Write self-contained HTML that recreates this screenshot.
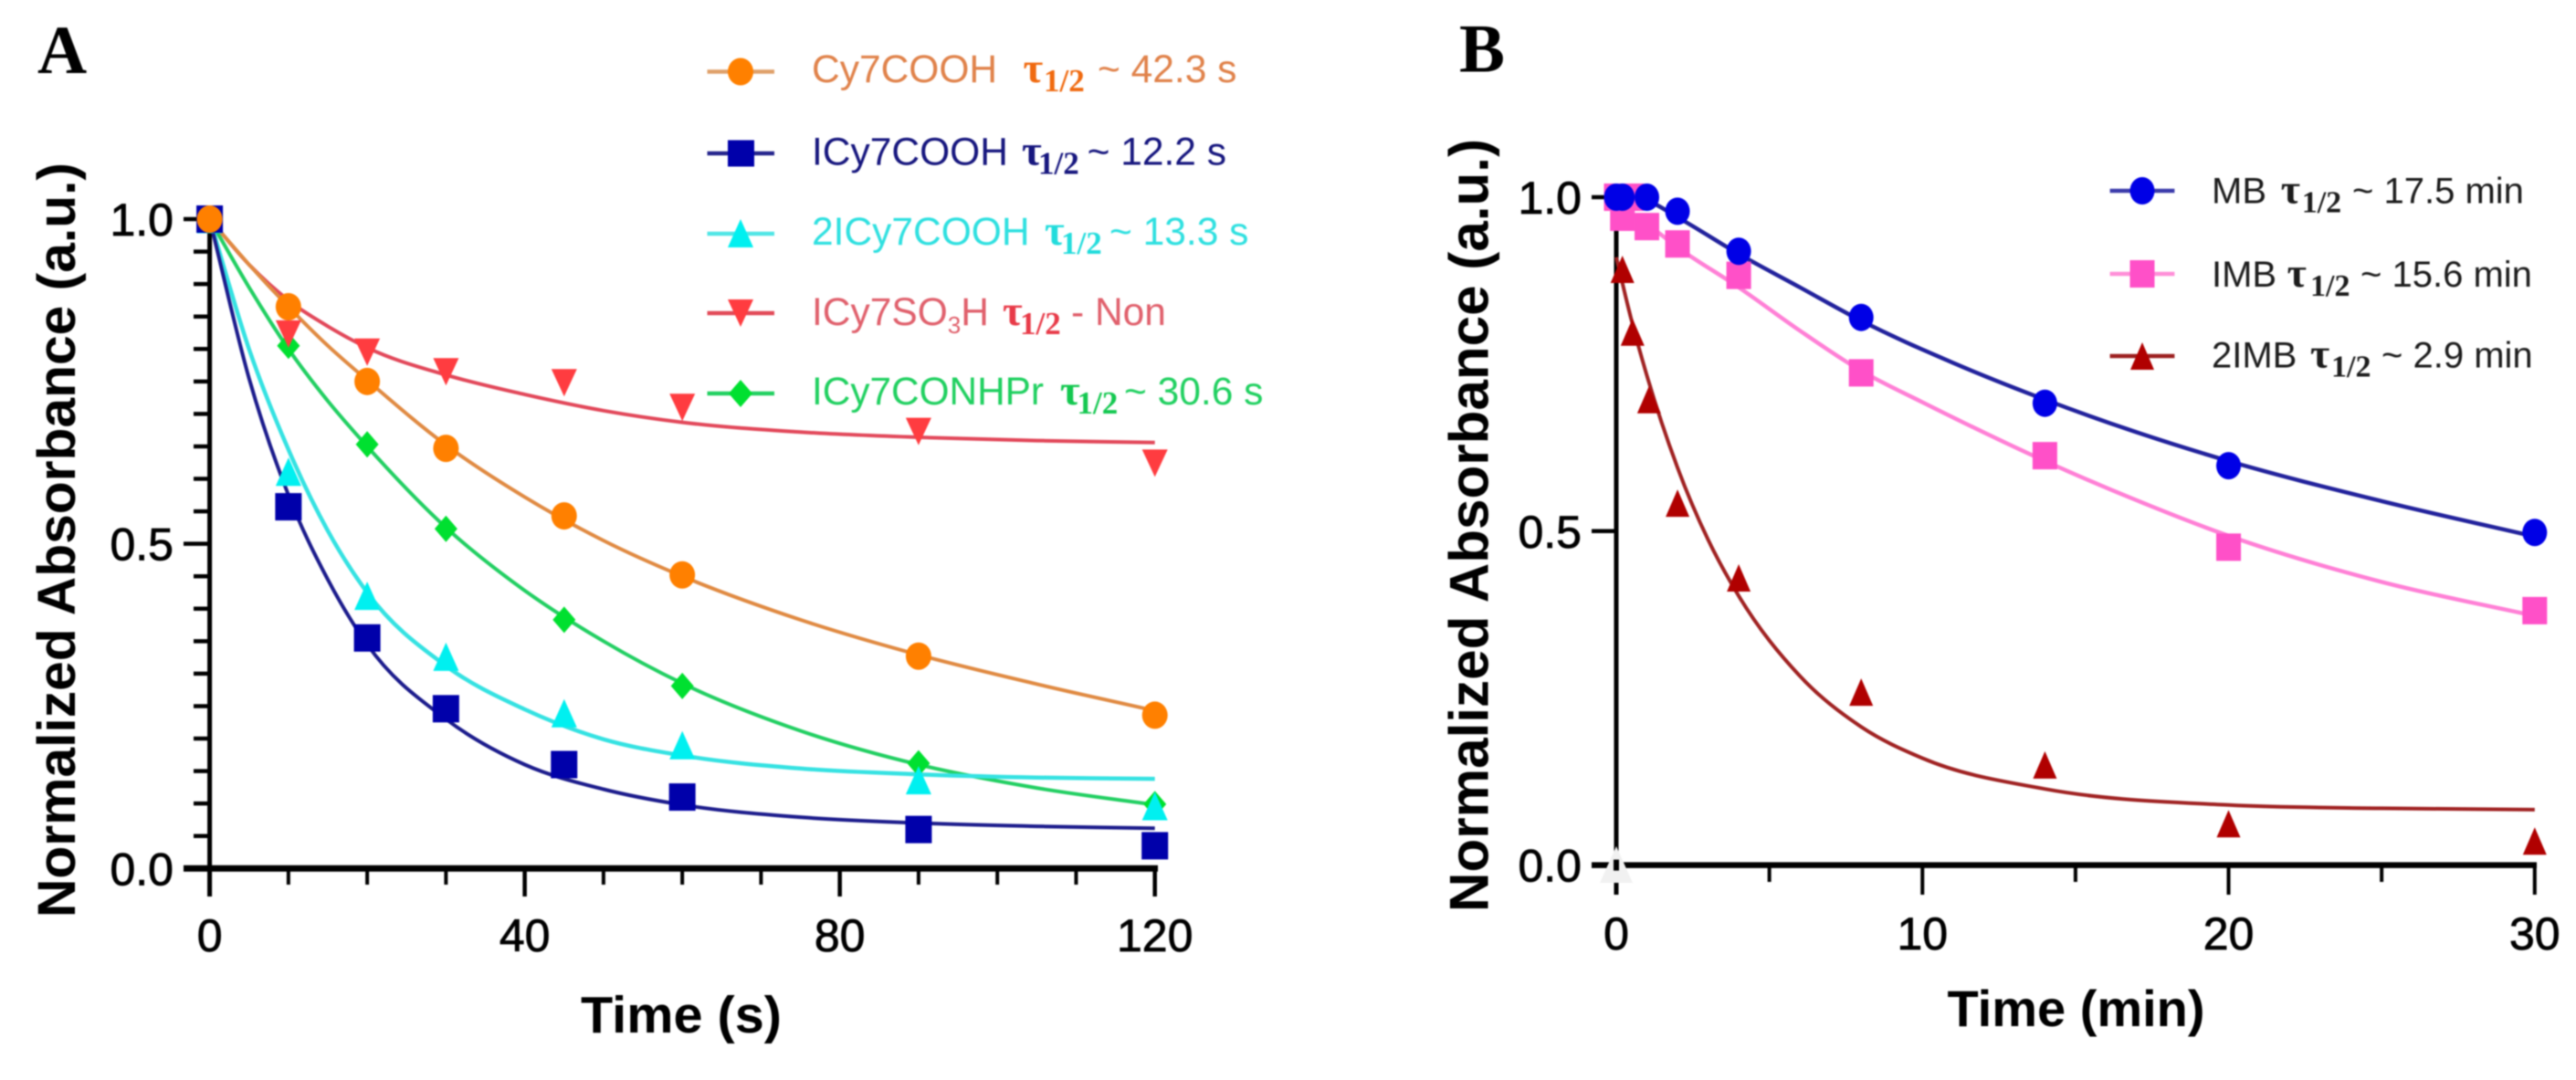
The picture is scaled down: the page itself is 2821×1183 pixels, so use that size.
<!DOCTYPE html>
<html lang="en">
<head>
<meta charset="utf-8">
<title>Normalized absorbance decay curves</title>
<style>
  html, body { margin: 0; padding: 0; background: #fff; }
  #figure { display: block; width: 2821px; height: 1183px; filter: blur(0.7px); font-family: "Liberation Sans", sans-serif; }
  .tau { font-family: "Liberation Serif", serif; font-weight: 700; font-size: 47px; }
  .sub { font-family: "Liberation Serif", serif; font-weight: 700; font-size: 35px; }
  .tauB { font-family: "Liberation Serif", serif; font-weight: 700; font-size: 46px; }
  .subB { font-family: "Liberation Serif", serif; font-weight: 700; font-size: 34px; }
  .leg { font-size: 42.5px; }
  .legB { font-size: 40px; fill: #1c1c1c; }
  .title { font-weight: 700; fill: #000; }
  .panel { font-family: "Liberation Serif", serif; font-weight: 700; font-size: 75px; fill: #000; }
</style>
</head>
<body>
<svg id="figure" xmlns="http://www.w3.org/2000/svg" width="2821" height="1183" viewBox="0 0 2821 1183">
  <rect width="2821" height="1183" fill="#fff"/>

  <text class="panel" x="41" y="80">A</text>
  <text class="panel" x="1598" y="78.5">B</text>

  <g id="chartA"></g>
  <g id="chartB"></g>

  <text class="title" font-size="58.5" transform="translate(82 1005) rotate(-90)" textLength="827" lengthAdjust="spacingAndGlyphs">Normalized Absorbance (a.u.)</text>
  <text class="title" font-size="57" x="636" y="1131" textLength="220" lengthAdjust="spacingAndGlyphs">Time (s)</text>
  <text class="title" font-size="60" transform="translate(1629.5 999) rotate(-90)" textLength="847" lengthAdjust="spacingAndGlyphs">Normalized Absorbance (a.u.)</text>
  <text class="title" font-size="56" x="2132.5" y="1124" textLength="282" lengthAdjust="spacingAndGlyphs">Time (min)</text>

  <!-- Legend A -->
  <g>
    <g>
      <line x1="774.5" x2="848" y1="78.5" y2="78.5" stroke="#dfa06a" stroke-width="4.5"/>
      <ellipse cx="811" cy="78.5" rx="14" ry="15" fill="#ff8000"/>
      <text class="leg" fill="#e0824a" x="889" y="90">Cy7COOH</text>
      <text class="tau" fill="#f06a10" x="1120.5" y="90">τ</text>
      <text class="sub" fill="#f06a10" x="1143" y="100">1/2</text>
      <text class="leg" fill="#e0824a" x="1202" y="90">~ 42.3 s</text>
    </g>
    <g>
      <line x1="774.5" x2="848" y1="168" y2="168" stroke="#24248c" stroke-width="4.5"/>
      <rect x="797" y="153.5" width="29" height="29" fill="#0000aa"/>
      <text class="leg" fill="#16167e" x="889" y="180.6">ICy7COOH</text>
      <text class="tau" fill="#16167e" x="1119" y="180.6">τ</text>
      <text class="sub" fill="#16167e" x="1137" y="190.6">1/2</text>
      <text class="leg" fill="#16167e" x="1190.6" y="180.6">~ 12.2 s</text>
    </g>
    <g>
      <line x1="774.5" x2="848" y1="256" y2="256" stroke="#4fe6e6" stroke-width="4.5"/>
      <polygon points="811,240 825,271 797,271" fill="#00f0f0"/>
      <text class="leg" fill="#2fe0e0" x="889" y="268">2ICy7COOH</text>
      <text class="tau" fill="#22dcdc" x="1144" y="268">τ</text>
      <text class="sub" fill="#22dcdc" x="1162" y="278">1/2</text>
      <text class="leg" fill="#2fe0e0" x="1215" y="268">~ 13.3 s</text>
    </g>
    <g>
      <line x1="774.5" x2="848" y1="343" y2="343" stroke="#e24a58" stroke-width="4.5"/>
      <polygon points="797,328 825,328 811,358" fill="#ff3c40"/>
      <text class="leg" fill="#e0606c" x="889" y="356">ICy7SO<tspan font-size="26" dy="9">3</tspan><tspan dy="-9">H</tspan></text>
      <text class="tau" fill="#e83a48" x="1098" y="356">τ</text>
      <text class="sub" fill="#e83a48" x="1117" y="366">1/2</text>
      <text class="leg" fill="#e0606c" x="1173" y="356">- Non</text>
    </g>
    <g>
      <line x1="774.5" x2="848" y1="431" y2="431" stroke="#22d060" stroke-width="4.5"/>
      <polygon points="811,416 824,431 811,446 798,431" fill="#00e030"/>
      <text class="leg" fill="#20d060" x="889" y="443" textLength="254" lengthAdjust="spacingAndGlyphs">ICy7CONHPr</text>
      <text class="tau" fill="#14c850" x="1161" y="443">τ</text>
      <text class="sub" fill="#14c850" x="1179.5" y="453">1/2</text>
      <text class="leg" fill="#20d060" x="1231" y="443">~ 30.6 s</text>
    </g>
  </g>

  <!-- Legend B -->
  <g>
    <g>
      <line x1="2310.6" x2="2381.4" y1="209" y2="209" stroke="#3a3aaa" stroke-width="4.5"/>
      <ellipse cx="2346" cy="209" rx="13.5" ry="15" fill="#0000e6"/>
      <text class="legB" x="2422" y="222.7">MB</text>
      <text class="tauB" fill="#1c1c1c" x="2497.7" y="222.7">τ</text>
      <text class="subB" fill="#1c1c1c" x="2520.7" y="232.7">1/2</text>
      <text class="legB" x="2576" y="222.7">~ 17.5 min</text>
    </g>
    <g>
      <line x1="2310.6" x2="2381.4" y1="300" y2="300" stroke="#ff8fd8" stroke-width="4.5"/>
      <rect x="2332.5" y="285" width="27" height="30" fill="#ff50c8"/>
      <text class="legB" x="2422" y="313.8">IMB</text>
      <text class="tauB" fill="#1c1c1c" x="2504.6" y="313.8">τ</text>
      <text class="subB" fill="#1c1c1c" x="2530" y="323.8">1/2</text>
      <text class="legB" x="2585" y="313.8">~ 15.6 min</text>
    </g>
    <g>
      <line x1="2310.6" x2="2381.4" y1="390" y2="390" stroke="#9c2020" stroke-width="4.5"/>
      <polygon points="2346,375 2359,405 2333,405" fill="#b00000"/>
      <text class="legB" x="2422" y="402.6">2IMB</text>
      <text class="tauB" fill="#1c1c1c" x="2530" y="402.6">τ</text>
      <text class="subB" fill="#1c1c1c" x="2553" y="412.6">1/2</text>
      <text class="legB" x="2608" y="402.6">~ 2.9 min</text>
    </g>
  </g>
</svg>

<script>
// ---------- Panel A data ----------
const timeA = [0, 10, 20, 30, 45, 60, 90, 120];
const cy7Values = [1, 0.865, 0.75, 0.647, 0.543, 0.452, 0.327, 0.236];
const icy7Values = [1, 0.557, 0.355, 0.246, 0.16, 0.11, 0.06, 0.035];
const diIcy7Values = [1, 0.611, 0.42, 0.326, 0.239, 0.19, 0.136, 0.096];
const so3hValues = [1, 0.823, 0.795, 0.765, 0.748, 0.71, 0.673, 0.624];
const conhprValues = [1, 0.805, 0.653, 0.523, 0.383, 0.281, 0.162, 0.099];

const fitTimeA = [0, 5, 10, 15, 20, 30, 40, 50, 60, 75, 90, 105, 120];
const cy7Fit = [1, 0.93, 0.865, 0.805, 0.752, 0.652, 0.572, 0.505, 0.45, 0.383, 0.329, 0.284, 0.243];
const icy7Fit = [1, 0.755, 0.575, 0.445, 0.345, 0.23, 0.16, 0.122, 0.098, 0.079, 0.07, 0.065, 0.062];
const diIcy7Fit = [1, 0.8, 0.645, 0.52, 0.425, 0.312, 0.245, 0.199, 0.174, 0.154, 0.145, 0.14, 0.138];
const so3hFit = [1, 0.93, 0.875, 0.835, 0.802, 0.76, 0.73, 0.705, 0.687, 0.672, 0.664, 0.659, 0.656];
const conhprFit = [1, 0.895, 0.8, 0.72, 0.65, 0.525, 0.428, 0.35, 0.285, 0.212, 0.16, 0.124, 0.098];

const xTicksMajorA = [0, 40, 80, 120];
const xTicksMinorA = [10, 20, 30, 50, 60, 70, 90, 100, 110];
const yTicksMajorA = [0, 0.5, 1];
const yTicksMinorA = [0.05, 0.1, 0.15, 0.2, 0.25, 0.3, 0.35, 0.4, 0.45, 0.55, 0.6, 0.65, 0.7, 0.75, 0.8, 0.85, 0.9, 0.95];
const xTickLabelsA = ['0', '40', '80', '120'];
const yTickLabelsA = ['0.0', '0.5', '1.0'];

// ---------- Panel B data ----------
const timeMB = [0, 0.2, 1, 2, 4, 8, 14, 20, 30];
const mbValues = [1, 1, 1, 0.979, 0.919, 0.82, 0.6915, 0.598, 0.498];
const timeIMB = [0, 0.2, 0.5, 1, 2, 4, 8, 14, 20, 30];
const imbValues = [1, 0.97, 1, 0.956, 0.93, 0.883, 0.737, 0.613, 0.476, 0.381];
const time2IMB = [0.2, 0.53, 1.07, 2, 4, 8, 14, 20, 30];
const diImbValues = [0.892, 0.798, 0.697, 0.542, 0.43, 0.259, 0.15, 0.062, 0.036];

const fitTimeBlue = [0, 1, 2, 4, 6, 8, 11, 14, 17, 20, 25, 30];
const mbFit = [1, 0.995, 0.97, 0.915, 0.865, 0.815, 0.752, 0.697, 0.648, 0.605, 0.545, 0.492];
const fitTimePink = [0, 1, 2, 4, 6, 8, 10, 14, 17, 20, 25, 30];
const imbFit = [0.99, 0.96, 0.925, 0.865, 0.8, 0.74, 0.693, 0.605, 0.546, 0.493, 0.424, 0.373];
const fitTimeRed = [0, 0.5, 1, 2, 3, 4, 6, 8, 10, 14, 20, 25, 30];
const diImbFit = [0.91, 0.815, 0.733, 0.595, 0.487, 0.403, 0.283, 0.207, 0.16, 0.114, 0.09, 0.085, 0.083];

const xTicksMajorB = [0, 10, 20, 30];
const xTicksMinorB = [5, 15, 25];
const yTicksMajorB = [0, 0.5, 1];
const xTickLabelsB = ['0', '10', '20', '30'];
const yTickLabelsB = ['0.0', '0.5', '1.0'];

// ---------- Axis functions ----------
const xA = t => 229.6 + t * (1264.7 - 229.6) / 120;
const yA = v => 951.3 - v * (951.3 - 240);
const xB = t => 1770 + t * (2775.8 - 1770) / 30;
const yB = v => 947.6 - v * (947.6 - 216);

const SVGNS = 'http://www.w3.org/2000/svg';
const chartA = document.getElementById('chartA');
const chartB = document.getElementById('chartB');

function drawRule(parent, x1, y1, x2, y2, w, name) {
  const el = document.createElementNS(SVGNS, 'line');
  el.setAttribute('x1', x1);
  el.setAttribute('y1', y1);
  el.setAttribute('x2', x2);
  el.setAttribute('y2', y2);
  el.setAttribute('stroke', '#000');
  el.setAttribute('stroke-width', w);
  
  
  parent.appendChild(el);
}

function drawLabel(parent, x, y, str, anchor, name) {
  const el = document.createElementNS(SVGNS, 'text');
  el.setAttribute('x', x);
  el.setAttribute('y', y);
  el.setAttribute('text-anchor', anchor);
  el.setAttribute('font-size', '50');
  el.setAttribute('fill', '#000');
  el.setAttribute('stroke', '#000');
  el.setAttribute('stroke-width', '0.8');
  
  
  el.textContent = str;
  parent.appendChild(el);
}

// Smooth curve through the fit samples (spacing-weighted cubic tangents)
function curvePath(ts, vs, fx, fy) {
  const n = ts.length;
  const px = ts.map(fx), py = vs.map(fy);
  const slope = [], gap = [];
  for (let i = 0; i < n - 1; i++) {
    gap.push(px[i + 1] - px[i]);
    slope.push((py[i + 1] - py[i]) / gap[i]);
  }
  const m = [slope[0]];
  for (let i = 1; i < n - 1; i++) {
    m.push((slope[i - 1] * gap[i] + slope[i] * gap[i - 1]) / (gap[i] + gap[i - 1]));
  }
  m.push(slope[n - 2]);
  let d = 'M' + px[0].toFixed(1) + ' ' + py[0].toFixed(1);
  for (let i = 0; i < n - 1; i++) {
    const h = gap[i] / 3;
    d += 'C' + (px[i] + h).toFixed(1) + ' ' + (py[i] + m[i] * h).toFixed(1) + ' ' +
      (px[i + 1] - h).toFixed(1) + ' ' + (py[i + 1] - m[i + 1] * h).toFixed(1) + ' ' +
      px[i + 1].toFixed(1) + ' ' + py[i + 1].toFixed(1);
  }
  return d;
}

function drawCurve(parent, ts, vs, fx, fy, color, w, name) {
  const el = document.createElementNS(SVGNS, 'path');
  el.setAttribute('d', curvePath(ts, vs, fx, fy));
  el.setAttribute('fill', 'none');
  el.setAttribute('stroke', color);
  el.setAttribute('stroke-width', w);
  
  
  parent.appendChild(el);
}

function drawMarker(parent, shape, cx, cy, w, h, color, name) {
  let el;
  if (shape === 'circle') {
    el = document.createElementNS(SVGNS, 'ellipse');
    el.setAttribute('cx', cx);
    el.setAttribute('cy', cy);
    el.setAttribute('rx', w / 2);
    el.setAttribute('ry', h / 2);
  } else if (shape === 'square') {
    el = document.createElementNS(SVGNS, 'rect');
    el.setAttribute('x', cx - w / 2);
    el.setAttribute('y', cy - h / 2);
    el.setAttribute('width', w);
    el.setAttribute('height', h);
  } else {
    el = document.createElementNS(SVGNS, 'polygon');
    let pts;
    if (shape === 'up') pts = [[cx, cy - h / 2], [cx + w / 2, cy + h / 2], [cx - w / 2, cy + h / 2]];
    else if (shape === 'down') pts = [[cx - w / 2, cy - h / 2], [cx + w / 2, cy - h / 2], [cx, cy + h / 2]];
    else pts = [[cx, cy - h / 2], [cx + w / 2, cy], [cx, cy + h / 2], [cx - w / 2, cy]];
    el.setAttribute('points', pts.map(p => p[0].toFixed(1) + ',' + p[1].toFixed(1)).join(' '));
  }
  el.setAttribute('fill', color);
  
  
  parent.appendChild(el);
}

function drawSeries(parent, ts, vs, fx, fy, shape, w, h, color, name) {
  ts.forEach((t, i) => drawMarker(parent, shape, fx(t), fy(vs[i]), w, h, color, name));
}

// ---------- Panel A axes ----------
drawRule(chartA, xA(0), yA(1) - 2, xA(0), 982, 5, 'chart-a-y-axis');
drawRule(chartA, 201, yA(0), 1268, yA(0), 7, 'chart-a-x-axis');
xTicksMajorA.forEach((t, i) => {
  drawRule(chartA, xA(t), yA(0), xA(t), 982, 4.5, 'chart-a-x-tick-major');
  drawLabel(chartA, xA(t), 1042, xTickLabelsA[i], 'middle', 'chart-a-x-tick-label');
});
xTicksMinorA.forEach(t => drawRule(chartA, xA(t), yA(0), xA(t), 969, 4, 'chart-a-x-tick-minor'));
yTicksMajorA.forEach((v, i) => {
  drawRule(chartA, 201, yA(v), xA(0), yA(v), 4.5, 'chart-a-y-tick-major');
  drawLabel(chartA, 190, yA(v) + 18, yTickLabelsA[i], 'end', 'chart-a-y-tick-label');
});
yTicksMinorA.forEach(v => drawRule(chartA, 212, yA(v), xA(0), yA(v), 4.5, 'chart-a-y-tick-minor'));

// ---------- Panel A curves and markers ----------
drawCurve(chartA, fitTimeA, conhprFit, xA, yA, '#22cf62', 4, 'icy7conhpr-fit-curve');
drawCurve(chartA, fitTimeA, so3hFit, xA, yA, '#e2485a', 4, 'icy7so3h-fit-curve');
drawCurve(chartA, fitTimeA, diIcy7Fit, xA, yA, '#35e2e2', 4.5, '2icy7cooh-fit-curve');
drawCurve(chartA, fitTimeA, icy7Fit, xA, yA, '#1c1c8c', 4, 'icy7cooh-fit-curve');
drawCurve(chartA, fitTimeA, cy7Fit, xA, yA, '#e08a42', 4, 'cy7cooh-fit-curve');
drawSeries(chartA, timeA, conhprValues, xA, yA, 'diamond', 25, 29, '#00e030', 'icy7conhpr-point');
drawSeries(chartA, timeA, so3hValues, xA, yA, 'down', 28, 30, '#ff3c40', 'icy7so3h-point');
drawSeries(chartA, timeA, diIcy7Values, xA, yA, 'up', 28, 31, '#00f0f0', '2icy7cooh-point');
drawSeries(chartA, timeA, icy7Values, xA, yA, 'square', 29, 30, '#0000aa', 'icy7cooh-point');
drawSeries(chartA, timeA, cy7Values, xA, yA, 'circle', 28, 30, '#ff8000', 'cy7cooh-point');

// ---------- Panel B axes ----------
drawRule(chartB, xB(0), yB(1) - 2, xB(0), 980, 5, 'chart-b-y-axis');
drawRule(chartB, 1743, yB(0), 2778, yB(0), 6.5, 'chart-b-x-axis');
xTicksMajorB.forEach((t, i) => {
  drawRule(chartB, xB(t), yB(0), xB(t), 980, 4, 'chart-b-x-tick-major');
  drawLabel(chartB, xB(t), 1040, xTickLabelsB[i], 'middle', 'chart-b-x-tick-label');
});
xTicksMinorB.forEach(t => drawRule(chartB, xB(t), yB(0), xB(t), 966, 4, 'chart-b-x-tick-minor'));
yTicksMajorB.forEach((v, i) => {
  drawRule(chartB, 1743, yB(v), xB(0), yB(v), 4.5, 'chart-b-y-tick-major');
  drawLabel(chartB, 1732, yB(v) + 18, yTickLabelsB[i], 'end', 'chart-b-y-tick-label');
});

// Pale masked triangle sitting on the chart B origin, with the axis crossing showing through
drawMarker(chartB, 'up', xB(0), yB(0) - 0.6, 36, 40, '#f1f1f1', 'chart-b-origin-marker');
drawRule(chartB, xB(0), yB(0) - 6, xB(0), yB(0) + 6, 6, 'chart-b-origin-crossing');

// ---------- Panel B curves and markers ----------
drawCurve(chartB, fitTimeRed, diImbFit, xB, yB, '#a02222', 4, '2imb-fit-curve');
drawCurve(chartB, fitTimePink, imbFit, xB, yB, '#ff80d6', 4.5, 'imb-fit-curve');
drawCurve(chartB, fitTimeBlue, mbFit, xB, yB, '#22229c', 4.5, 'mb-fit-curve');
drawSeries(chartB, time2IMB, diImbValues, xB, yB, 'up', 26, 30, '#b00000', '2imb-point');
drawSeries(chartB, timeIMB, imbValues, xB, yB, 'square', 27, 30, '#ff50c8', 'imb-point');
drawSeries(chartB, timeMB, mbValues, xB, yB, 'circle', 27, 30, '#0000e6', 'mb-point');
</script>
</body>
</html>
